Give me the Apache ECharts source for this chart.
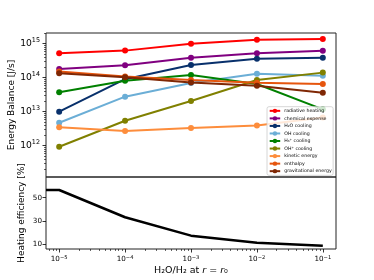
<!DOCTYPE html>
<html><head><meta charset="utf-8">
<script src="https://cdn.jsdelivr.net/npm/echarts@6/dist/echarts.min.js"></script>
<style>html,body{margin:0;padding:0;background:#fff}#c{width:374px;height:280px}</style>
</head><body><div id="c"></div>
<script>
// ---- data ----
const ratios = [1e-5, 1e-4, 1e-3, 1e-2, 1e-1];
const seriesNames = ['radiative heating', 'chemical expense', 'H\u2082O cooling', 'OH cooling',
  'H\u2083\u207A cooling', 'OH\u207A cooling', 'kinetic energy', 'enthalpy', 'gravitational energy'];
const radiativeHeating    = [5.2e14, 6.2e14, 9.8e14, 1.29e15, 1.37e15];
const chemicalExpense     = [1.8e14, 2.3e14, 3.8e14, 5.2e14, 6.1e14];
const h2oCooling          = [1.0e13, 9.0e13, 2.35e14, 3.6e14, 3.8e14];
const ohCooling           = [4.7e12, 2.75e13, 6.9e13, 1.3e14, 1.14e14];
const h3pCooling          = [3.7e13, 8.1e13, 1.2e14, 6.5e13, 1.17e13];
const ohpCooling          = [9.3e11, 5.4e12, 2.05e13, 8.5e13, 1.4e14];
const kineticEnergy       = [3.5e12, 2.7e12, 3.3e12, 3.9e12, 6.7e12];
const enthalpy            = [1.5e14, 1.07e14, 8.5e13, 7.1e13, 6.5e13];
const gravitationalEnergy = [1.35e14, 1.02e14, 7.2e13, 5.8e13, 3.6e13];
const effRatios = [6.31e-6, 1e-5, 1e-4, 1e-3, 1e-2, 1e-1];
const heatingEfficiency = [56.6, 56.6, 33.1, 17.2, 11.1, 8.5];
const effTicks = [10, 30, 50];

// ---- style ----
const colors = ['#ff0000', '#800080', '#08306b', '#6baed6', '#008000', '#808000', '#fd8d3c', '#e6550d', '#7f2704'];
const energyArrays = [radiativeHeating, chemicalExpense, h2oCooling, ohCooling, h3pCooling, ohpCooling, kineticEnergy, enthalpy, gravitationalEnergy];
const FONT = 'DejaVu Sans';
const XMIN = Math.pow(10, -5.2), XMAX = Math.pow(10, -0.8);
const YLO = 11.08, YHI = 15.31;
const XLO = -5.2, XHI = -0.8;

function decadeTicks(lo, hi, minor) {
  const out = [];
  for (let n = Math.floor(lo); n <= Math.ceil(hi); n++) {
    if (minor) {
      for (let k = 2; k <= 9; k++) { const v = n + Math.log10(k); if (v >= lo && v <= hi) out.push(v); }
    } else if (n >= lo && n <= hi) out.push(n);
  }
  return out;
}
function powLabel(v) {
  const e = Math.log10(v); const r = Math.round(e);
  if (Math.abs(e - r) > 1e-6) return '';
  return '{b|10}{s|' + (r < 0 ? '\u2212' : '') + Math.abs(r) + '}';
}

const chart = echarts.init(document.getElementById('c'), null, {renderer: 'canvas'});
const series = seriesNames.map((name, i) => ({
  name, type: 'line', xAxisIndex: 0, yAxisIndex: 0,
  data: ratios.map((x, j) => [x, energyArrays[i][j]]),
  symbol: 'circle', symbolSize: 6, showSymbol: true,
  itemStyle: {color: colors[i]}, lineStyle: {color: colors[i], width: 2},
  z: 2 + i * 0.01
}));
series.push({
  name: 'eff', type: 'line', xAxisIndex: 1, yAxisIndex: 2,
  data: effRatios.map((x, j) => [x, heatingEfficiency[j]]),
  symbol: 'none', lineStyle: {color: '#000', width: 2.5}, itemStyle: {color: '#000'}
});

const tickLine = {color: '#000', width: 0.8};
chart.setOption({
  animation: false,
  backgroundColor: '#fff',
  textStyle: {fontFamily: FONT},
  grid: [
    {left: 46, top: 33, width: 290, height: 144, show: true, borderColor: '#222', borderWidth: 1, containLabel: false, outerBoundsMode: 'none'},
    {left: 46, top: 177, width: 290, height: 72, show: true, borderColor: '#222', borderWidth: 1, containLabel: false, outerBoundsMode: 'none'}
  ],
  legend: {
    data: seriesNames, orient: 'vertical', left: 267, top: 106.7,
    itemWidth: 10.5, itemHeight: 5.5, itemGap: 2.04,
    padding: [1.4, 1.4, 1.4, 1.7],
    backgroundColor: 'rgba(255,255,255,0.8)', borderColor: '#cccccc', borderWidth: 0.8, borderRadius: 2,
    textStyle: {fontSize: 4.7, lineHeight: 5.5, fontFamily: FONT, color: '#000', padding: [0, 0, 0, -1]},
    z: 20
  },
  xAxis: [
    {type: 'log', gridIndex: 0, min: XMIN, max: XMAX, axisLine: {show: false}, axisTick: {show: false},
      axisLabel: {show: false}, splitLine: {show: false}},
    {type: 'log', gridIndex: 1, min: XMIN, max: XMAX, position: 'bottom',
      axisLine: {show: false}, axisTick: {show: false}, splitLine: {show: false},
      axisLabel: {formatter: powLabel, margin: 6, color: '#000',
        rich: {b: {fontSize: 7.2, lineHeight: 9, fontFamily: FONT, color: '#000'},
               s: {fontSize: 5.2, lineHeight: 6, verticalAlign: 'top', fontFamily: FONT, color: '#000'}}},
      name: 'H\u2082O/H\u2082 at {i|r} = {i|r}\u2080', nameLocation: 'middle', nameGap: 17, nameMoveOverlap: false,
      nameTextStyle: {fontSize: 9.5, fontFamily: FONT, color: '#000',
        rich: {i: {fontStyle: 'italic', fontSize: 9.5, fontFamily: FONT, color: '#000'}}}},
    {type: 'value', gridIndex: 1, min: XLO, max: XHI, position: 'bottom',
      axisLine: {show: false}, axisLabel: {show: false}, splitLine: {show: false},
      axisTick: {show: true, length: 3.5, lineStyle: tickLine, customValues: decadeTicks(XLO, XHI, false)}},
    {type: 'value', gridIndex: 1, min: XLO, max: XHI, position: 'bottom',
      axisLine: {show: false}, axisLabel: {show: false}, splitLine: {show: false},
      axisTick: {show: true, length: 2, lineStyle: {color: '#000', width: 0.6}, customValues: decadeTicks(XLO, XHI, true)}}
  ],
  yAxis: [
    {type: 'log', gridIndex: 0, min: Math.pow(10, YLO), max: Math.pow(10, YHI), position: 'left',
      axisLine: {show: false}, axisTick: {show: false}, splitLine: {show: false},
      axisLabel: {formatter: powLabel, margin: 6, color: '#000',
        rich: {b: {fontSize: 9.2, lineHeight: 12, fontFamily: FONT, color: '#000'},
               s: {fontSize: 6.4, lineHeight: 7, verticalAlign: 'top', fontFamily: FONT, color: '#000'}}},
      name: 'Energy Balance [J/s]', nameLocation: 'middle', nameGap: 30, nameMoveOverlap: false,
      nameTextStyle: {fontSize: 9, fontFamily: FONT, color: '#000'}},
    {type: 'value', gridIndex: 0, min: YLO, max: YHI, position: 'left',
      axisLine: {show: false}, axisLabel: {show: false}, splitLine: {show: false},
      axisTick: {show: true, length: 3.5, lineStyle: tickLine, customValues: decadeTicks(YLO, YHI, false)}},
    {type: 'value', gridIndex: 1, min: 5.7, max: 67.8, position: 'left',
      axisLine: {show: false}, splitLine: {show: false},
      axisTick: {show: true, length: 3.5, lineStyle: tickLine, customValues: effTicks},
      axisLabel: {margin: 4, color: '#000', fontSize: 7.2, fontFamily: FONT, customValues: effTicks},
      name: 'Heating efficiency [%]', nameLocation: 'middle', nameGap: 20, nameMoveOverlap: false,
      nameTextStyle: {fontSize: 9, fontFamily: FONT, color: '#000'}},
    {type: 'value', gridIndex: 0, min: YLO, max: YHI, position: 'left',
      axisLine: {show: false}, axisLabel: {show: false}, splitLine: {show: false},
      axisTick: {show: true, length: 2, lineStyle: {color: '#000', width: 0.6}, customValues: decadeTicks(YLO, YHI, true)}}
  ],
  series
});
</script></body></html>
